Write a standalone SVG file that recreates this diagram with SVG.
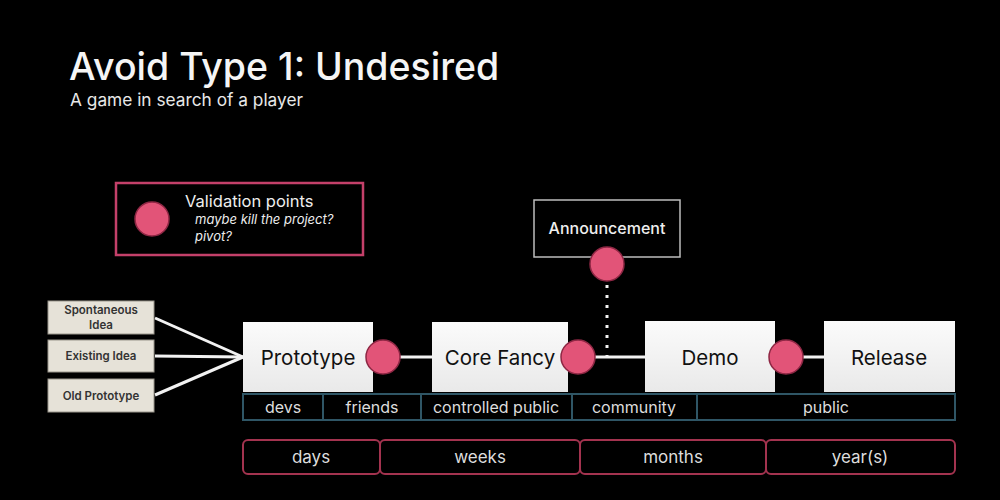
<svg xmlns="http://www.w3.org/2000/svg" width="1000" height="500" viewBox="0 0 1000 500">
<defs>
<linearGradient id="nodeGrad" x1="0" y1="0" x2="0" y2="1">
<stop offset="0" stop-color="#fbfbfb"/>
<stop offset="1" stop-color="#e9e9e9"/>
</linearGradient>
</defs>
<style>
text{font-family:Inter,"Liberation Sans",sans-serif}
.node rect{fill:url(#nodeGrad)}
.node text{fill:#111;font-size:20.5px;text-anchor:middle}
.src rect{fill:#e6e2d8;stroke:#9a968c;stroke-width:1}
.src text{fill:#333;font-size:11.5px;font-weight:600;text-anchor:middle}
.vp{fill:#e25478;stroke:#8e2744;stroke-width:1.5}
.aud rect{fill:#000;stroke:#2f5666;stroke-width:2}
.aud text{fill:#dddddd;font-size:16px;text-anchor:middle}
.time text{fill:#dddddd;font-size:17px;text-anchor:middle}
.time rect{fill:#000;stroke:#a3334f;stroke-width:2}
.conn line{stroke:#f2f2f2;stroke-width:3}
</style>
<rect width="1000" height="500" fill="#000"/>
<text x="69" y="80" font-size="37.5" fill="#f5f5f5" font-weight="500">Avoid Type 1: Undesired</text>
<text x="70" y="106" font-size="17.3" fill="#e8e8e8">A game in search of a player</text>

<g id="legend">
<rect x="116" y="183" width="247" height="72" fill="#000" stroke="#c4406a" stroke-width="2.5"/>
<circle class="vp" cx="152" cy="219" r="17"/>
<text x="185" y="207" font-size="16.5" fill="#eeeeee">Validation points</text>
<text x="195" y="224" font-size="13" font-style="italic" fill="#eeeeee">maybe kill the project?</text>
<text x="195" y="241" font-size="13" font-style="italic" fill="#eeeeee">pivot?</text>
</g>

<g id="connectors" class="conn">
<line x1="155" y1="318" x2="243" y2="357"/>
<line x1="155" y1="356" x2="243" y2="357"/>
<line x1="155" y1="395" x2="243" y2="357"/>
<line x1="373" y1="357" x2="432" y2="357"/>
<line x1="568" y1="357" x2="645" y2="357"/>
<line x1="775" y1="357" x2="824" y2="357"/>
<line x1="607" y1="285" x2="607" y2="356" stroke-dasharray="3 7"/>
</g>

<g id="src-spontaneous" class="src">
<rect x="48" y="301" width="106" height="33"/>
<text x="101" y="314">Spontaneous</text>
<text x="101" y="329">Idea</text>
</g>
<g id="src-existing" class="src">
<rect x="48" y="340" width="106" height="32"/>
<text x="101" y="360">Existing Idea</text>
</g>
<g id="src-old" class="src">
<rect x="48" y="379" width="106" height="33"/>
<text x="101" y="400">Old Prototype</text>
</g>

<g id="prototype" class="node">
<rect x="243" y="322" width="130" height="70"/>
<text x="308" y="365">Prototype</text>
</g>
<g id="corefancy" class="node">
<rect x="432" y="322" width="136" height="70"/>
<text x="500" y="365">Core Fancy</text>
</g>
<g id="demo" class="node">
<rect x="645" y="321" width="130" height="71"/>
<text x="710" y="365">Demo</text>
</g>
<g id="release" class="node">
<rect x="824" y="321" width="131" height="71"/>
<text x="889" y="365">Release</text>
</g>

<g id="announcement">
<rect x="534" y="200" width="146" height="57" fill="#000" stroke="#bdbdbd" stroke-width="1.5"/>
<text x="607" y="234" font-size="16" fill="#eeeeee" text-anchor="middle" font-weight="500">Announcement</text>
</g>

<g id="validation-points">
<circle class="vp" cx="383" cy="357" r="17"/>
<circle class="vp" cx="578" cy="357" r="17"/>
<circle class="vp" cx="607" cy="264" r="17"/>
<circle class="vp" cx="786" cy="357" r="17"/>
</g>

<g id="audience" class="aud">
<rect x="243" y="394" width="80" height="26"/>
<text x="283" y="413">devs</text>
<rect x="323" y="394" width="98" height="26"/>
<text x="372" y="413">friends</text>
<rect x="421" y="394" width="151" height="26"/>
<text x="496" y="413">controlled public</text>
<rect x="572" y="394" width="125" height="26"/>
<text x="634" y="413">community</text>
<rect x="697" y="394" width="258" height="26"/>
<text x="826" y="413">public</text>
</g>

<g id="timeline" class="time">
<rect x="243" y="440" width="137" height="34" rx="5"/>
<text x="311" y="463">days</text>
<rect x="380" y="440" width="200" height="34" rx="5"/>
<text x="480" y="463">weeks</text>
<rect x="580" y="440" width="186" height="34" rx="5"/>
<text x="673" y="463">months</text>
<rect x="766" y="440" width="189" height="34" rx="5"/>
<text x="860" y="463">year(s)</text>
</g>
</svg>
